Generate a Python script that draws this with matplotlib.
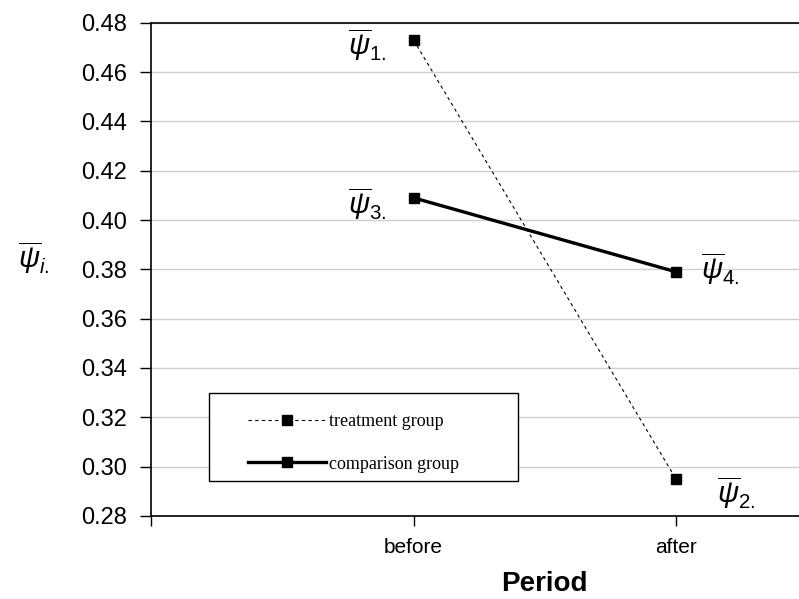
import matplotlib
matplotlib.use("Agg")
import matplotlib.pyplot as plt
from matplotlib.patches import Rectangle

periods = ["before", "after"]
treatment = [0.473, 0.295]
comparison = [0.409, 0.379]
yticks = [0.28, 0.30, 0.32, 0.34, 0.36, 0.38, 0.40, 0.42, 0.44, 0.46, 0.48]

xpos = [1, 2]

plt.rcParams["mathtext.fontset"] = "custom"
plt.rcParams["mathtext.rm"] = "Liberation Sans"
plt.rcParams["mathtext.it"] = "Liberation Sans:italic"

fig = plt.figure(figsize=(7.99, 5.99), dpi=100)
ax = fig.add_axes([0.189, 0.1386, 0.9856, 0.8235])

ax.plot(xpos, treatment, color="black", lw=0.8, dashes=(3, 3),
        marker="s", ms=7, label="treatment group")
ax.plot(xpos, comparison, color="black", lw=2.4,
        marker="s", ms=7, label="comparison group")

ax.set_xlim(0, 3)
ax.set_ylim(0.28, 0.48)
ax.set_yticks(yticks)
ax.set_yticklabels(["%.2f" % v for v in yticks], family=["Liberation Sans", "DejaVu Sans"], fontsize=17)
ax.set_xticks([0, 1, 2])
ax.set_xticklabels(["", periods[0], periods[1]],
                   family=["Liberation Sans", "DejaVu Sans"], fontsize=15)
ax.tick_params(axis="y", direction="out", length=8, width=1, pad=9)
ax.tick_params(axis="x", direction="out", length=7, width=1, pad=9)
ax.yaxis.grid(True, color="#d0d0d0", lw=1)
ax.set_axisbelow(True)
for s in ["left", "bottom", "top"]:
    ax.spines[s].set_color("black")
    ax.spines[s].set_linewidth(1.2)
ax.spines["right"].set_visible(False)

ax.set_xlabel("Period", family=["Liberation Sans", "DejaVu Sans"],
              fontsize=20, fontweight="bold", labelpad=10)

# labels next to the points
names = [r"$\overline{\psi}_{\mathrm{1.}}$", r"$\overline{\psi}_{\mathrm{2.}}$",
         r"$\overline{\psi}_{\mathrm{3.}}$", r"$\overline{\psi}_{\mathrm{4.}}$"]
pts = [(xpos[0], treatment[0]), (xpos[1], treatment[1]),
       (xpos[0], comparison[0]), (xpos[1], comparison[1])]
offs = [(-46, -5), (60, -14), (-46, -6), (44, 3)]
for n, p, o in zip(names, pts, offs):
    ax.annotate(n, p, xytext=o, textcoords="offset pixels",
                ha="center", va="center", fontsize=21)

fig.text(34 / 799, 1 - 258 / 599, r"$\overline{\psi}_{i.}$", fontsize=21,
         ha="center", va="center")

# legend box drawn by hand, entries placed inside it
ax.add_patch(Rectangle((0.0738, 0.0704), 0.392, 0.179, transform=ax.transAxes,
                       fill=True, facecolor="white", edgecolor="black", lw=1.0, zorder=4))
leg = ax.legend(loc="upper left", bbox_to_anchor=(0.123, 0.208),
                frameon=False,
                prop={"family": ["Liberation Serif", "DejaVu Serif"], "size": 13},
                handlelength=4.3, handletextpad=0.2, borderaxespad=0,
                borderpad=0, labelspacing=1.4)
leg.set_zorder(5)

fig.savefig("out.png", dpi=100)
